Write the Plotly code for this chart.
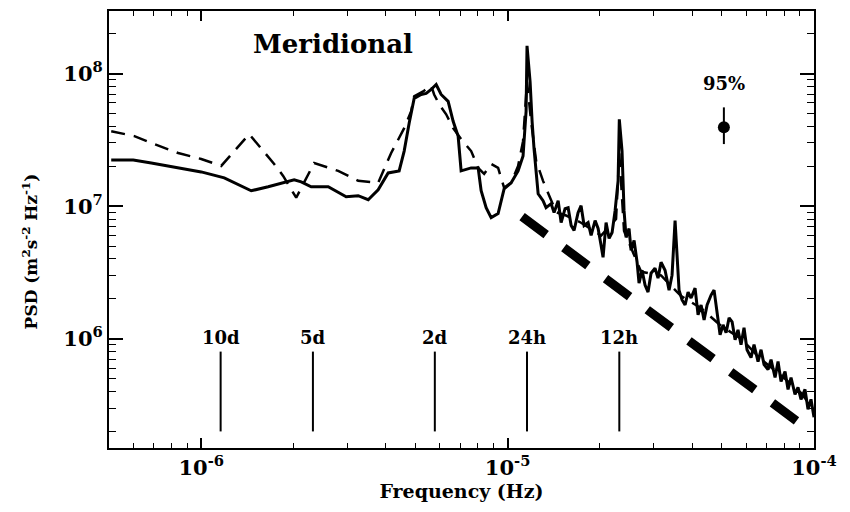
import math
import plotly.graph_objects as go

# Meridional velocity power spectral density (two records)
freq_solid = [5.085e-7, 6.00e-7, 6.87e-7, 8.41e-7, 1.00e-6, 1.189e-6, 1.32e-6, 1.456e-6,
              1.654e-6, 1.866e-6, 2.011e-6, 2.12e-6, 2.285e-6, 2.597e-6, 2.82e-6, 2.972e-6,
              3.253e-6, 3.507e-6, 3.780e-6, 4.075e-6, 4.426e-6, 4.596e-6, 4.771e-6, 4.954e-6,
              5.222e-6, 5.422e-6, 5.629e-6, 5.845e-6, 6.067e-6, 6.396e-6, 6.641e-6, 6.894e-6,
              7.051e-6, 7.603e-6, 8.014e-6, 8.196e-6, 8.510e-6, 8.836e-6, 9.311e-6, 9.74e-6,
              1.027e-5, 1.082e-5, 1.123e-5, 1.149e-5, 1.157e-5, 1.184e-5, 1.202e-5, 1.220e-5,
              1.258e-5, 1.305e-5, 1.335e-5, 1.387e-5, 1.418e-5, 1.462e-5, 1.495e-5, 1.540e-5,
              1.576e-5, 1.612e-5, 1.648e-5, 1.698e-5, 1.737e-5, 1.777e-5, 1.831e-5, 1.873e-5,
              1.930e-5, 1.974e-5, 2.019e-5, 2.049e-5, 2.096e-5, 2.144e-5, 2.193e-5, 2.243e-5,
              2.294e-5, 2.315e-5, 2.363e-5, 2.399e-5, 2.436e-5, 2.491e-5, 2.529e-5, 2.587e-5,
              2.646e-5, 2.685e-5, 2.747e-5, 2.809e-5, 2.873e-5, 2.939e-5, 3.028e-5, 3.097e-5,
              3.168e-5, 3.265e-5, 3.365e-5, 3.441e-5, 3.520e-5, 3.573e-5, 3.627e-5, 3.710e-5,
              3.795e-5, 3.881e-5, 3.970e-5, 4.091e-5, 4.184e-5, 4.280e-5, 4.378e-5, 4.478e-5,
              4.614e-5, 4.719e-5, 4.827e-5, 4.937e-5, 5.050e-5, 5.165e-5, 5.283e-5, 5.404e-5,
              5.527e-5, 5.649e-5, 5.779e-5, 5.910e-5, 6.045e-5, 6.231e-5, 6.372e-5, 6.567e-5,
              6.717e-5, 6.870e-5, 7.080e-5, 7.241e-5, 7.463e-5, 7.632e-5, 7.806e-5, 8.044e-5,
              8.228e-5, 8.414e-5, 8.670e-5, 8.868e-5, 9.070e-5, 9.346e-5, 9.559e-5, 9.777e-5,
              1.0e-4]
psd_solid = [2.230e7, 2.230e7, 2.118e7, 1.943e7, 1.813e7, 1.635e7, 1.449e7, 1.307e7,
             1.400e7, 1.500e7, 1.579e7, 1.526e7, 1.400e7, 1.400e7, 1.262e7, 1.178e7,
             1.199e7, 1.119e7, 1.329e7, 1.782e7, 1.845e7, 2.604e7, 4.222e7, 6.495e7,
             6.960e7, 7.081e7, 7.590e7, 8.273e7, 6.960e7, 6.169e7, 4.370e7, 3.375e7,
             1.845e7, 1.943e7, 1.943e7, 1.307e7, 9.745e6, 8.203e6, 8.788e6, 1.352e7,
             1.500e7, 1.845e7, 2.390e7, 5.193e7, 1.621e8, 8.712e7, 4.370e7, 2.696e7,
             1.240e7, 1.100e7, 9.745e6, 1.044e7, 8.94e6, 1.100e7, 7.521e6, 9.58e6,
             9.745e6, 7.142e6, 6.553e6, 8.94e6, 1.009e7, 7.142e6, 7.521e6, 6.012e6,
             7.789e6, 6.783e6, 5.060e6, 4.114e6, 7.521e6, 5.709e6, 6.331e6, 9.254e6,
             1.552e7, 4.52e7, 2.604e7, 9.254e6, 5.808e6, 6.783e6, 4.642e6, 5.515e6,
             3.774e6, 2.627e6, 3.288e6, 2.538e6, 2.250e6, 3.122e6, 3.402e6, 2.863e6,
             3.774e6, 3.288e6, 2.328e6, 3.016e6, 7.789e6, 3.774e6, 2.328e6, 1.960e6,
             1.798e6, 2.250e6, 2.028e6, 2.410e6, 1.513e6, 1.798e6, 1.388e6, 1.798e6,
             2.136e6, 2.328e6, 1.513e6, 1.072e6, 1.273e6, 1.109e6, 1.437e6, 1.341e6,
             9.83e5, 1.168e6, 9.02e5, 1.209e6, 8.27e5, 7.21e5, 9.02e5, 6.73e5,
             8.27e5, 6.39e5, 5.86e5, 6.96e5, 5.10e5, 6.73e5, 4.76e5, 5.66e5,
             4.15e5, 5.10e5, 3.81e5, 4.30e5, 3.49e5, 4.15e5, 2.94e5, 3.49e5,
             2.56e5]

freq_dashed = [5.085e-7, 6.05e-7, 7.03e-7, 8.41e-7, 1.00e-6, 1.162e-6, 1.434e-6, 1.730e-6,
               1.851e-6, 2.042e-6, 2.337e-6, 2.799e-6, 3.253e-6, 3.780e-6, 4.168e-6, 4.596e-6,
               4.844e-6, 4.954e-6, 5.301e-6, 5.629e-6, 5.757e-6, 5.977e-6, 6.301e-6, 6.641e-6,
               7.051e-6, 7.603e-6, 8.014e-6, 8.382e-6, 8.836e-6, 9.311e-6, 9.74e-6, 1.027e-5,
               1.082e-5, 1.123e-5, 1.157e-5, 1.193e-5, 1.239e-5, 1.305e-5, 1.440e-5, 1.552e-5,
               1.737e-5, 2.019e-5, 2.259e-5, 2.315e-5, 2.399e-5, 2.727e-5, 3.168e-5, 3.683e-5,
               4.280e-5, 4.974e-5, 5.779e-5, 6.717e-5, 7.806e-5, 9.070e-5, 1.0e-4]
psd_dashed = [3.677e7, 3.375e7, 2.939e7, 2.516e7, 2.269e7, 2.011e7, 3.493e7, 2.082e7,
              1.692e7, 1.158e7, 2.118e7, 1.845e7, 1.552e7, 1.500e7, 2.516e7, 3.873e7,
              5.193e7, 6.725e7, 7.33e7, 8.13e7, 6.960e7, 5.86e7, 4.93e7, 3.873e7,
              3.203e7, 2.604e7, 1.943e7, 1.751e7, 2.082e7, 1.943e7, 1.376e7, 1.500e7,
              2.011e7, 3.094e7, 8.712e7, 4.370e7, 2.192e7, 1.552e7, 9.0e6, 8.5e6,
              7.5e6, 6.0e6, 8.0e6, 2.5e7, 6.5e6, 3.2e6, 3.0e6, 2.1e6,
              1.7e6, 1.25e6, 1.0e6, 7.0e5, 5.3e5, 3.9e5, 2.9e5]

# Reference spectral slope segment
slope_freq = [1.115e-5, 9.07e-5]
slope_psd = [8.34e6, 2.27e5]

# Inertial / tidal period markers
period_labels = ["10d", "5d", "2d", "24h", "12h"]
period_freq = [1.157e-6, 2.315e-6, 5.787e-6, 1.157e-5, 2.315e-5]
marker_top = 8.0e5
marker_bottom = 2.0e5
label_level = 1.02e6

# 95% confidence interval
ci_freq = 5.08e-5
ci_psd = 3.94e7
ci_upper = 5.56e7
ci_lower = 2.94e7
ci_label_level = 8.42e7

title_freq = 2.70e-6
title_level = 1.68e8

FONT = "DejaVu Serif"
lg = math.log10  # annotations on log axes are positioned in log10 units

fig = go.Figure()

fig.add_trace(go.Scatter(x=freq_dashed, y=psd_dashed, mode="lines",
                         line=dict(color="black", width=2.5, dash="14px,9px"),
                         showlegend=False))
fig.add_trace(go.Scatter(x=freq_solid, y=psd_solid, mode="lines",
                         line=dict(color="black", width=3), showlegend=False))
fig.add_trace(go.Scatter(x=slope_freq, y=slope_psd, mode="lines",
                         line=dict(color="black", width=9, dash="30px,22px"),
                         showlegend=False))

for f in period_freq:
    fig.add_trace(go.Scatter(x=[f, f], y=[marker_bottom, marker_top], mode="lines",
                             line=dict(color="black", width=2), showlegend=False))
for lab, f in zip(period_labels, period_freq):
    fig.add_annotation(x=lg(f), y=lg(label_level), xref="x", yref="y", text=lab,
                       showarrow=False,
                       font=dict(family=FONT, size=18, color="black", weight="bold"),
                       yanchor="middle", xanchor="center")

fig.add_trace(go.Scatter(x=[ci_freq], y=[ci_psd], mode="markers",
                         marker=dict(color="black", size=12),
                         error_y=dict(type="data", array=[ci_upper - ci_psd],
                                      arrayminus=[ci_psd - ci_lower],
                                      color="black", thickness=2, width=0),
                         showlegend=False))
fig.add_annotation(x=lg(ci_freq), y=lg(ci_label_level), xref="x", yref="y", text="95%",
                   showarrow=False,
                   font=dict(family=FONT, size=18, color="black", weight="bold"),
                   yanchor="middle", xanchor="center")

fig.add_annotation(x=lg(title_freq), y=lg(title_level), xref="x", yref="y",
                   text="Meridional", showarrow=False,
                   font=dict(family=FONT, size=26, color="black", weight="bold"),
                   yanchor="middle", xanchor="center")

# Y-axis title placed as a rotated annotation
fig.add_annotation(x=-0.112, y=0.45, xref="paper", yref="paper",
                   text="PSD (m<sup>2</sup>s<sup>-2</sup> Hz<sup>-1</sup>)", textangle=-90,
                   showarrow=False,
                   font=dict(family=FONT, size=17, color="black", weight="bold"),
                   xanchor="center", yanchor="middle")

x_ticks = [1e-6, 1e-5, 1e-4]
x_ticktext = ["10<sup>-6</sup>", "10<sup>-5</sup>", "10<sup>-4</sup>"]
y_ticks = [1e6, 1e7, 1e8]
y_ticktext = ["10<sup>6</sup>", "10<sup>7</sup>", "10<sup>8</sup>"]

fig.update_layout(
    width=850, height=512,
    margin=dict(l=109, r=36, t=9, b=64),
    paper_bgcolor="white", plot_bgcolor="white",
    font=dict(family=FONT, color="black"),
    xaxis=dict(type="log", range=[-6.3010, -4.0], tickvals=x_ticks, ticktext=x_ticktext,
               ticks="inside", ticklen=10, tickwidth=1.5, tickcolor="black",
               showline=True, linecolor="black", linewidth=2, mirror="ticks",
               showgrid=False, zeroline=False,
               tickfont=dict(family=FONT, size=21, weight="bold"),
               minor=dict(tickvals=[6e-7, 7e-7, 8e-7, 9e-7, 2e-6, 3e-6, 4e-6, 5e-6, 6e-6,
                                    7e-6, 8e-6, 9e-6, 2e-5, 3e-5, 4e-5, 5e-5, 6e-5, 7e-5,
                                    8e-5, 9e-5],
                          ticks="inside", ticklen=5, tickwidth=1, tickcolor="black",
                          showgrid=False),
               title=dict(text="Frequency (Hz)", standoff=4,
                          font=dict(family=FONT, size=19, weight="bold"))),
    yaxis=dict(type="log", range=[5.176, 8.472], tickvals=y_ticks, ticktext=y_ticktext,
               ticks="inside", ticklen=14, tickwidth=1.5, tickcolor="black",
               showline=True, linecolor="black", linewidth=2, mirror="ticks",
               showgrid=False, zeroline=False,
               tickfont=dict(family=FONT, size=21, weight="bold"),
               minor=dict(tickvals=[2e5, 3e5, 4e5, 5e5, 6e5, 7e5, 8e5, 9e5,
                                    2e6, 3e6, 4e6, 5e6, 6e6, 7e6, 8e6, 9e6,
                                    2e7, 3e7, 4e7, 5e7, 6e7, 7e7, 8e7, 9e7, 2e8],
                          ticks="inside", ticklen=7, tickwidth=1, tickcolor="black",
                          showgrid=False)),
)

fig.write_html("out.html")
